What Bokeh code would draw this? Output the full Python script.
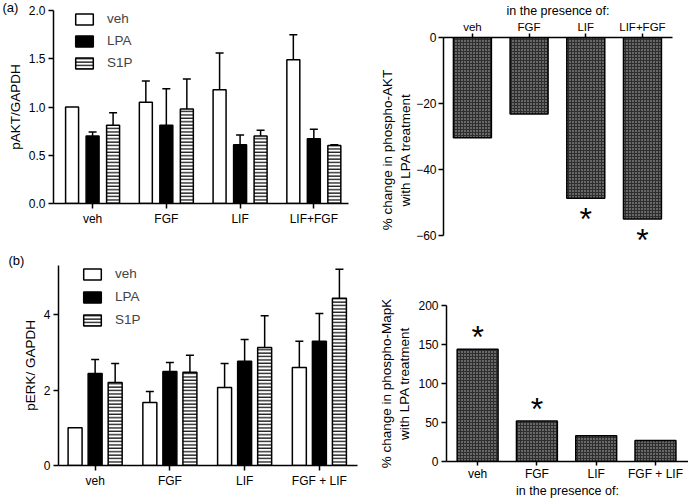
from jinja2 import Template
from bokeh.plotting import figure
from bokeh.models import (Range1d, FixedTicker, ColumnDataSource, Whisker, TeeHead,
                          Legend, LegendItem, NumeralTickFormatter)
from bokeh.embed import file_html
from bokeh.resources import INLINE
from bokeh.core.properties import value

FONT = "Liberation Sans"

# ---------------- data ----------------
series_names = ["veh", "LPA", "S1P"]

akt_groups = ["veh", "FGF", "LIF", "LIF+FGF"]
akt_veh = [1.00, 1.05, 1.18, 1.49]
akt_veh_err = [None, 1.27, 1.56, 1.75]
akt_lpa = [0.70, 0.81, 0.61, 0.67]
akt_lpa_err = [0.74, 1.19, 0.71, 0.77]
akt_s1p = [0.81, 0.98, 0.70, 0.60]
akt_s1p_err = [0.94, 1.29, 0.76, 0.61]

akt_change = [-30.4, -23.2, -48.7, -55.0]
akt_sig = [False, False, True, True]

erk_groups = ["veh", "FGF", "LIF", "FGF + LIF"]
erk_veh = [1.00, 1.67, 2.07, 2.60]
erk_veh_err = [None, 1.96, 2.70, 3.29]
erk_lpa = [2.44, 2.49, 2.76, 3.29]
erk_lpa_err = [2.81, 2.73, 3.34, 4.03]
erk_s1p = [2.20, 2.47, 3.13, 4.43]
erk_s1p_err = [2.70, 2.92, 3.97, 5.20]

erk_change = [144, 52, 33, 27]
erk_sig = [True, True, False, False]

# ---------------- helpers ----------------
def style(p, label_size="13.5px"):
    for ax in p.axis:
        ax.axis_line_width = 1.5
        ax.axis_line_color = "black"
        ax.major_tick_line_width = 1.5
        ax.major_tick_line_color = "black"
        ax.major_tick_in = 0
        ax.major_tick_out = 5
        ax.minor_tick_line_color = None
        ax.major_label_text_font = FONT
        ax.major_label_text_font_size = "12px"
        ax.major_label_text_color = "black"
        ax.major_label_standoff = 3
        ax.axis_label_text_font = FONT
        ax.axis_label_text_font_size = label_size
        ax.axis_label_text_font_style = "normal"
        ax.axis_label_text_color = "black"
        ax.axis_label_standoff = 3
    p.grid.visible = False
    p.outline_line_color = None


def panel_tag(p, text, offset, standoff):
    p.title.text = text
    p.title.align = "left"
    p.title.offset = offset
    p.title.standoff = standoff
    p.title.text_font = FONT
    p.title.text_font_size = "13px"
    p.title.text_font_style = "normal"
    p.title.text_color = "black"


def cat_axis(p, groups):
    xs = list(range(1, len(groups) + 1))
    p.xaxis.ticker = FixedTicker(ticks=xs)
    p.xaxis.major_label_overrides = {x: g for x, g in zip(xs, groups)}


def grouped(p, groups, series, errs, width, offset, leg_loc, leg_spacing):
    xs0 = list(range(1, len(groups) + 1))
    styles = [
        dict(fill_color="white"),
        dict(fill_color="black"),
        dict(fill_color="white", hatch_pattern="horizontal_line", hatch_color="black",
             hatch_scale=3.4, hatch_weight=1.2),
    ]
    items = []
    for k, (name, vals, err, st) in enumerate(zip(series_names, series, errs, styles)):
        xs = [x + (k - 1) * offset for x in xs0]
        src = ColumnDataSource(dict(x=xs, top=vals))
        r = p.vbar(x="x", top="top", bottom=0, width=width, source=src,
                   line_color="black", line_width=1.5, **st)
        items.append(LegendItem(label=name, renderers=[r]))
        keep = [i for i, e in enumerate(err) if e is not None]
        wsrc = ColumnDataSource(dict(base=[xs[i] for i in keep],
                                     lower=[vals[i] for i in keep],
                                     upper=[err[i] for i in keep]))
        w = Whisker(base="base", lower="lower", upper="upper", source=wsrc,
                    line_width=1.5, line_color="black", lower_head=None,
                    upper_head=TeeHead(size=8, line_width=1.5, line_color="black"),
                    level="annotation")
        p.add_layout(w)
    leg = Legend(items=items, location=leg_loc, glyph_width=22, glyph_height=14,
                 label_height=14, spacing=leg_spacing, padding=0, margin=0,
                 border_line_color=None, background_fill_alpha=0,
                 label_text_font=FONT, label_text_font_size="13.5px",
                 label_standoff=12)
    p.add_layout(leg)


def texture(p, groups, vals, width):
    xs = list(range(1, len(groups) + 1))
    src = ColumnDataSource(dict(x=xs, top=vals))
    p.vbar(x="x", top="top", bottom=0, width=width, source=src,
           fill_color="#2e2e2e", hatch_pattern="dot", hatch_color="#bdbdbd",
           hatch_scale=3, hatch_weight=1, line_color="black", line_width=1.5)


def stars(p, vals, sig, yoff):
    xs = [i + 1 for i, s in enumerate(sig) if s]
    ys = [v for v, s in zip(vals, sig) if s]
    p.text(x=xs, y=ys, text=["*"] * len(xs), text_font=value(FONT),
           text_font_size="32px", text_align="center", text_baseline="middle",
           y_offset=yoff, text_color="black")


# ---------------- (a) left ----------------
p1 = figure(width=376, height=245, output_backend="svg", toolbar_location=None,
            x_range=Range1d(0.47, 4.47), y_range=Range1d(0, 2.0),
            min_border_left=53, min_border_right=28, min_border_top=10, min_border_bottom=42)
grouped(p1, akt_groups, [akt_veh, akt_lpa, akt_s1p], [akt_veh_err, akt_lpa_err, akt_s1p_err],
        0.176, 0.278, (20, 133), 7)
style(p1)
cat_axis(p1, akt_groups)
p1.yaxis.ticker = FixedTicker(ticks=[0, 0.5, 1.0, 1.5, 2.0])
p1.yaxis.formatter = NumeralTickFormatter(format="0.0")
p1.yaxis.axis_label = "pAKT/GAPDH"
panel_tag(p1, "(a)", -51, -8)

# ---------------- (a) right ----------------
# canvas a little taller than its grid cell so the lowest star keeps room inside the frame
p2 = figure(width=312, height=262, output_backend="svg", toolbar_location=None,
            x_axis_location="above",
            x_range=Range1d(0.49, 4.53), y_range=Range1d(-68.2, 0),
            min_border_left=67, min_border_right=16, min_border_top=28, min_border_bottom=0)
texture(p2, akt_groups, akt_change, 0.67)
stars(p2, akt_change, akt_sig, 21)
style(p2)
cat_axis(p2, akt_groups)
p2.xaxis.major_tick_out = 4
p2.xaxis.major_label_standoff = 1
p2.xaxis.axis_label_standoff = 0
p2.xaxis.axis_label = "in the presence of:"
p2.xaxis.axis_label_text_font_size = "12.5px"
p2.xaxis.major_label_text_font_size = "11.5px"
p2.yaxis.ticker = FixedTicker(ticks=[0, -20, -40, -60])
p2.yaxis.bounds = (-60, 0)
p2.yaxis.major_label_standoff = 2
p2.yaxis.axis_label_standoff = 0
p2.yaxis.axis_label = "% change in phospho-AKT\nwith LPA treatment"

# ---------------- (b) left ----------------
p3 = figure(width=376, height=255, output_backend="svg", toolbar_location=None,
            x_range=Range1d(0.51, 4.51), y_range=Range1d(0, 5.3),
            min_border_left=58, min_border_right=19, min_border_top=20, min_border_bottom=35)
grouped(p3, erk_groups, [erk_veh, erk_lpa, erk_s1p], [erk_veh_err, erk_lpa_err, erk_s1p_err],
        0.187, 0.268, (23, 138), 8)
style(p3)
cat_axis(p3, erk_groups)
p3.yaxis.ticker = FixedTicker(ticks=[0, 2, 4])
p3.yaxis.axis_label = "pERK/ GAPDH"
panel_tag(p3, "(b)", -50, -5)

# ---------------- (b) right ----------------
p4 = figure(width=312, height=255, output_backend="svg", toolbar_location=None,
            x_range=Range1d(0.475, 4.557), y_range=Range1d(0, 200),
            min_border_left=63, min_border_right=0, min_border_top=60, min_border_bottom=35)
texture(p4, erk_groups, erk_change, 0.69)
stars(p4, erk_change, erk_sig, -12)
style(p4)
cat_axis(p4, erk_groups)
p4.xaxis.major_tick_out = 4
p4.xaxis.major_label_standoff = 1
p4.xaxis.axis_label_standoff = 0
p4.xaxis.axis_label = "in the presence of:"
p4.xaxis.axis_label_text_font_size = "12.5px"
p4.yaxis.ticker = FixedTicker(ticks=[0, 50, 100, 150, 200])
p4.yaxis.axis_label = "% change in phospho-MapK\nwith LPA treatment"

# four independent panels placed in a 2x2 CSS grid (no frame alignment between them)
page = Template("""{% extends base %}
{% block postamble %}
<style>
  html, body { margin: 0 !important; padding: 0 !important; overflow: hidden; }
  .panels { display: grid; grid-template-columns: 376px 312px; grid-template-rows: 245px 255px; }
</style>
{% endblock %}
{% block contents %}
<div class="panels">
{{ super() }}
</div>
{% endblock %}
""")

open("out.html", "w").write(file_html([p1, p2, p3, p4], INLINE, template=page))
